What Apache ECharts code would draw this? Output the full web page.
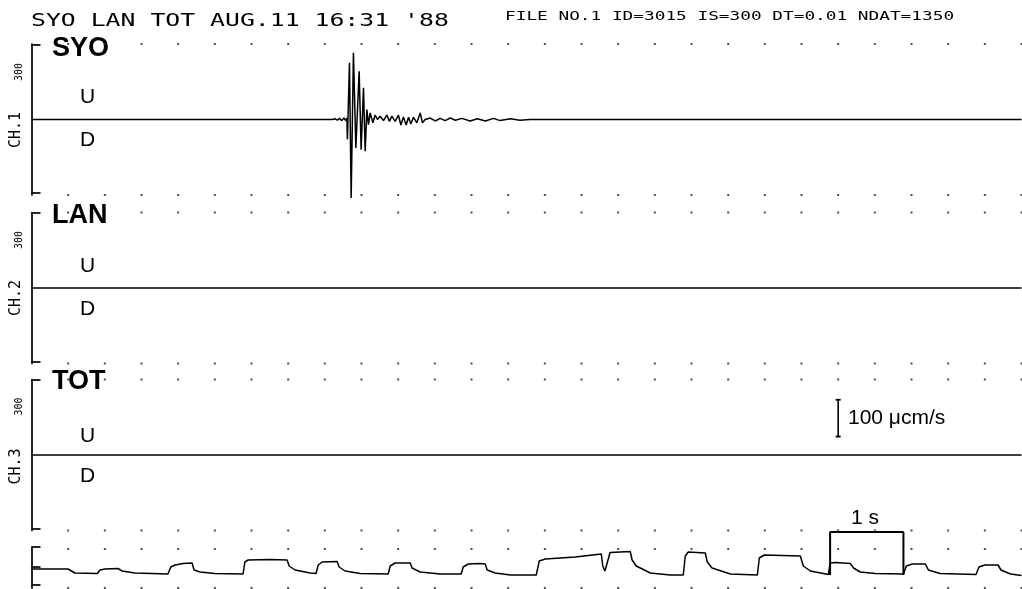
<!DOCTYPE html>
<html><head><meta charset="utf-8">
<script src="https://cdn.jsdelivr.net/npm/echarts@6/dist/echarts.min.js"></script>
<style>html,body{margin:0;padding:0;background:#fff}#c{width:1022px;height:589px}</style>
</head><body><div id="c"></div>
<script>
// ---------------- data ----------------
const headerLeft = "SYO LAN TOT AUG.11 16:31 '88";
const headerRight = "FILE NO.1 ID=3015 IS=300 DT=0.01 NDAT=1350";
const stations = ["SYO", "LAN", "TOT"];
const channels = ["CH.1", "CH.2", "CH.3"];
const gains = ["300", "300", "300"];
const polarityUp = "U";
const polarityDown = "D";
const durationSec = 13.5;           // NDAT * DT
const gridDotTimes = [0.5,1,1.5,2,2.5,3,3.5,4,4.5,5,5.5,6,6.5,7,7.5,8,8.5,9,9.5,10,10.5,11,11.5,12,12.5,13,13.5];

// SYO trace: [time s, velocity µcm/s]
const syoTrace = [
  [0,0],[4.10,0],[4.14,2],[4.17,-2],[4.20,3],[4.23,-3],[4.26,4],[4.285,-3],[4.30,4],
  [4.308,-54],[4.336,154],[4.359,-213],[4.390,181],[4.423,-77],[4.468,131],[4.495,-82],[4.527,86],[4.550,-86],
  [4.573,27],[4.595,-14],[4.618,18],[4.655,-9],[4.686,12],[4.718,0],[4.754,9],[4.80,-3],[4.846,12],[4.881,-5],
  [4.914,9],[4.959,-5],[5.004,12],[5.037,-15],[5.072,7],[5.109,-15],[5.141,6],[5.173,-12],[5.209,6],[5.255,-9],
  [5.30,18],[5.332,-9],[5.368,0],[5.437,4],[5.505,-4],[5.573,3],[5.64,-3],[5.71,4],[5.78,-2],[5.87,3],[5.98,-4],
  [6.08,2],[6.19,-4],[6.30,3],[6.39,-3],[6.53,2],[6.66,-2],[6.80,0],[13.5,0]
];
const lanTrace = [[0,0],[13.5,0]];
const totTrace = [[0,0],[13.5,0]];

// time code trace: [time s, level]
const timeCode = [
  [0,19],[0.498,19],[0.593,15],[0.90,14.5],[0.934,18],[1.003,19],[1.18,19.5],[1.235,17],[1.41,15],[1.86,14],
  [1.90,21],[1.958,23],[2.067,24.5],[2.19,25],[2.217,18],[2.30,16],[2.50,14.5],[2.885,14],
  [2.91,26],[2.954,28],[3.254,28.5],[3.486,28],[3.513,22],[3.595,18],[3.80,15],[3.88,14.5],
  [3.91,23],[3.963,26],[4.168,26.5],[4.195,21],[4.277,17],[4.482,14.5],[4.864,14],
  [4.891,22],[4.959,25],[5.164,25],[5.19,20],[5.30,16],[5.573,14],[5.86,14],
  [5.886,21],[5.955,24],[6.119,24.5],[6.187,24],[6.214,18],[6.323,15],[6.53,13],[6.883,13],
  [6.924,27],[7.006,29],[7.415,31],[7.77,34],[7.79,22],[7.82,17],[7.85,25],[7.89,35.5],[8.165,36.5],
  [8.19,28],[8.247,22],[8.438,15],[8.71,13],[8.888,13],
  [8.915,32],[8.956,36],[9.188,35],[9.215,26],[9.28,20],[9.53,14],[9.898,13],
  [9.925,30],[9.993,33],[10.484,32],[10.525,22],[10.62,17],[10.866,13.5],
  [10.89,25],[10.96,25.5],[11.166,24.5],[11.21,20],[11.30,16],[11.507,14.5],[11.89,14],
  [11.93,22],[12.01,24],[12.19,24],[12.23,18],[12.39,14.5],[12.88,13.5],
  [12.92,21],[13.0,23],[13.18,23],[13.22,18],[13.35,14],[13.5,12.5]
];

const ampBarValue = 100;            // µcm/s
const ampBarLabel = "100 \u03bccm/s";
const timeBarStart = 10.89;         // s
const timeBarLength = 1;            // s
const timeBarLabel = "1 s";

// ---------------- layout ----------------
const INK = '#000';
const gridLeft = 31.5, gridWidth = 990;
const panelTops = [44, 212.5, 379.5];
const panelH = 151, AMP = 205;
const tcTop = 547, tcH = 41, TCMAX = 41;

const grids = [], xAxes = [], yAxes = [], series = [];
const traces = [syoTrace, lanTrace, totTrace];

function dots(gi, yTop, yBot) {
  const d = [];
  gridDotTimes.forEach(t => { d.push([t, yTop]); d.push([t, yBot]); });
  return { type: 'scatter', xAxisIndex: gi, yAxisIndex: gi, data: d, symbol: 'rect',
           symbolSize: 2, itemStyle: { color: '#222' }, silent: true, animation: false, z: 1 };
}

for (let i = 0; i < 3; i++) {
  grids.push({ left: gridLeft, width: gridWidth, top: panelTops[i], height: panelH });
  xAxes.push({ gridIndex: i, type: 'value', min: 0, max: durationSec, show: false });
  yAxes.push({ gridIndex: i, type: 'value', min: -AMP, max: AMP,
    axisLine: { show: true, onZero: false, lineStyle: { color: INK, width: 1.7 } },
    axisTick: { show: true, inside: true, length: 9, customValues: [-200, 203], lineStyle: { color: INK, width: 1.7 } },
    axisLabel: { show: false }, splitLine: { show: false } });
  series.push({ type: 'line', xAxisIndex: i, yAxisIndex: i, data: traces[i], showSymbol: false,
    clip: false, lineStyle: { color: INK, width: 1.5 }, animation: false, z: 3 });
  series.push(dots(i, AMP, -AMP));
}
// time code panel
grids.push({ left: gridLeft, width: gridWidth, top: tcTop, height: tcH });
xAxes.push({ gridIndex: 3, type: 'value', min: 0, max: durationSec, show: false });
yAxes.push({ gridIndex: 3, type: 'value', min: 0, max: TCMAX,
  axisLine: { show: true, onZero: false, lineStyle: { color: INK, width: 1.7 } },
  axisTick: { show: true, inside: true, length: 9, customValues: [3, 21, 41], lineStyle: { color: INK, width: 1.7 } },
  axisLabel: { show: false }, splitLine: { show: false } });
series.push({ type: 'line', xAxisIndex: 3, yAxisIndex: 3, data: timeCode, showSymbol: false, clip: false,
  lineStyle: { color: INK, width: 1.5 }, animation: false, z: 3 });
series.push(dots(3, 39, 0));

// amplitude scale bar (TOT panel)
const ampBarT = 11.0, ampBarBase = 50;
series.push({ type: 'line', xAxisIndex: 2, yAxisIndex: 2,
  data: [[ampBarT, ampBarBase], [ampBarT, ampBarBase + ampBarValue]],
  symbol: 'rect', symbolSize: [5, 1.8], showSymbol: true, itemStyle: { color: INK },
  lineStyle: { color: INK, width: 1.6 }, animation: false, silent: true });
// 1 s bracket (time code panel)
const tbLow = 13, tbHigh = 56;
series.push({ type: 'line', xAxisIndex: 3, yAxisIndex: 3, clip: false,
  data: [[timeBarStart, tbLow], [timeBarStart, tbHigh], [timeBarStart + timeBarLength, tbHigh], [timeBarStart + timeBarLength, tbLow]],
  showSymbol: false, lineStyle: { color: INK, width: 2 }, animation: false, silent: true, z: 4 });

// ---------------- texts ----------------
const mono = '"DejaVu Sans Mono", monospace';
const sans = '"Liberation Sans", Arial, sans-serif';
const graphic = [];
function txt(x, y, text, font, opts) {
  graphic.push(Object.assign({ type: 'text', x: x, y: y, silent: true,
    style: { text: text, font: font, fill: INK, align: (opts && opts.align) || 'left', verticalAlign: 'middle' } },
    opts && opts.el || {}));
}
txt(31, 21, headerLeft, '18px ' + mono, { el: { scaleX: 1.377 } });
txt(505, 17, headerRight, '12px ' + mono, { el: { scaleX: 1.48 } });

const stationY = [48.5, 216, 381.5];
const upY = [97, 266, 436];
const downY = [140, 309, 476];
const chY = [130, 298, 466.5];
const gainY = [72, 240, 406.5];
for (let i = 0; i < 3; i++) {
  txt(52, stationY[i], stations[i], 'bold 27px ' + sans);
  txt(80, upY[i], polarityUp, '21px ' + sans);
  txt(80, downY[i], polarityDown, '21px ' + sans);
  txt(16.5, chY[i], channels[i], '15px ' + mono, { align: 'center', el: { rotation: Math.PI / 2 } });
  txt(19, gainY[i], gains[i], '10px ' + mono, { align: 'center', el: { rotation: Math.PI / 2 } });
}
txt(848, 418.5, ampBarLabel, '21px ' + sans);
txt(865, 518.5, timeBarLabel, '21px ' + sans, { align: 'center' });

const chart = echarts.init(document.getElementById('c'), null, { renderer: 'canvas' });
chart.setOption({
  backgroundColor: '#fff',
  animation: false,
  grid: grids, xAxis: xAxes, yAxis: yAxes, series: series,
  graphic: { elements: graphic }
});
</script>
</body></html>
